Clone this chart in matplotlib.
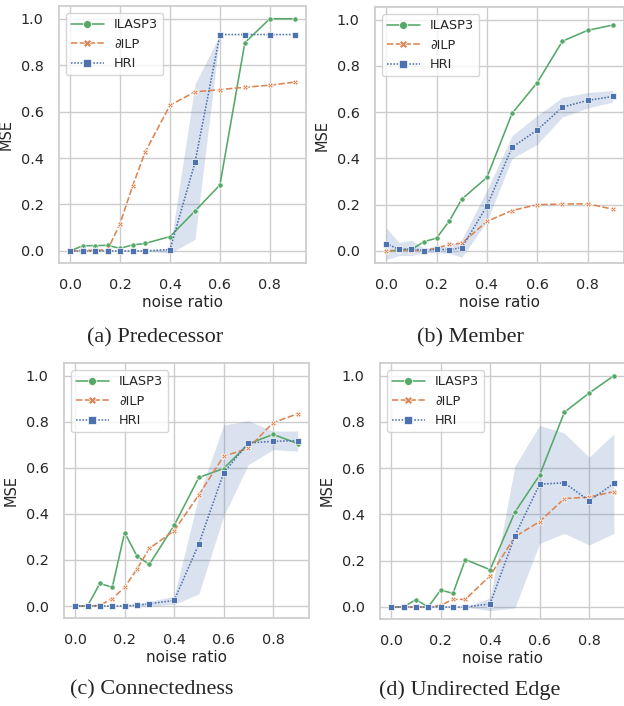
import numpy as np
import matplotlib
matplotlib.use("Agg")
import matplotlib.pyplot as plt
import seaborn as sns

sns.set_theme(style="whitegrid")
plt.rcParams['font.family'] = ['DejaVu Sans']

noise = [0.0, 0.05, 0.1, 0.15, 0.2, 0.25, 0.3, 0.4, 0.5, 0.6, 0.7, 0.8, 0.9]
methods = ["ILASP3", "\u2202ILP", "HRI"]

# (a) Predecessor
pred_ilasp = [0.0, 0.022, 0.023, 0.024, 0.011, 0.026, 0.032, 0.062, 0.172, 0.284, 0.897, 1.0, 1.0]
pred_dilp = [0.0, 0.002, 0.003, 0.005, 0.118, 0.28, 0.425, 0.628, 0.685, 0.695, 0.705, 0.714, 0.727]
pred_hri = [0.0, 0.0, 0.0, 0.0, 0.0, 0.0, 0.0, 0.006, 0.381, 0.932, 0.932, 0.932, 0.932]
pred_lo = [0.0, 0.0, 0.0, 0.0, 0.0, 0.0, 0.0, -0.01, 0.05, 0.932, 0.932, 0.932, 0.932]
pred_hi = [0.0, 0.0, 0.0, 0.0, 0.0, 0.0, 0.0, 0.012, 0.718, 0.932, 0.932, 0.932, 0.932]

# (b) Member
mem_ilasp = [0.0, 0.003, 0.007, 0.04, 0.056, 0.129, 0.224, 0.318, 0.595, 0.728, 0.907, 0.954, 0.977]
mem_dilp = [0.0, 0.003, 0.002, 0.003, 0.012, 0.029, 0.033, 0.128, 0.175, 0.2, 0.203, 0.204, 0.181]
mem_hri = [0.032, 0.007, 0.01, 0.002, 0.007, 0.006, 0.014, 0.195, 0.448, 0.523, 0.622, 0.651, 0.668]
mem_lo = [-0.037, -0.02, -0.02, -0.008, -0.008, -0.01, -0.027, 0.127, 0.4, 0.461, 0.579, 0.618, 0.644]
mem_hi = [0.1, 0.037, 0.047, 0.012, 0.02, 0.02, 0.05, 0.263, 0.499, 0.586, 0.664, 0.685, 0.694]

# (c) Connectedness
con_ilasp = [0.0, 0.0, 0.098, 0.081, 0.319, 0.216, 0.181, 0.35, 0.558, 0.597, 0.704, 0.745, 0.705]
con_dilp = [0.0, 0.0, 0.003, 0.032, 0.081, 0.161, 0.25, 0.327, 0.483, 0.65, 0.685, 0.796, 0.835]
con_hri = [0.0, 0.0, 0.0, 0.0, 0.0, 0.004, 0.01, 0.024, 0.27, 0.578, 0.708, 0.715, 0.718]
con_lo = [0.0, 0.0, 0.0, 0.0, 0.0, 0.0, 0.0, 0.007, 0.053, 0.39, 0.614, 0.679, 0.672]
con_hi = [0.0, 0.0, 0.0, 0.0, 0.0, 0.008, 0.02, 0.042, 0.48, 0.786, 0.804, 0.76, 0.76]

# (d) Undirected Edge
und_ilasp = [0.0, 0.0, 0.032, 0.0, 0.073, 0.059, 0.205, 0.161, 0.41, 0.57, 0.842, 0.925, 1.0]
und_dilp = [0.0, 0.0, 0.0, 0.0, 0.007, 0.033, 0.033, 0.135, 0.304, 0.369, 0.469, 0.475, 0.499]
und_hri = [0.0, 0.0, 0.0, 0.0, 0.0, 0.0, 0.0, 0.013, 0.307, 0.531, 0.537, 0.459, 0.534]
und_lo = [0.0, 0.0, 0.0, 0.0, 0.0, 0.0, 0.0, -0.016, -0.004, 0.275, 0.318, 0.268, 0.318]
und_hi = [0.0, 0.0, 0.0, 0.0, 0.0, 0.0, 0.0, 0.039, 0.61, 0.785, 0.752, 0.648, 0.749]

captions = ["(a) Predecessor", "(b) Member", "(c) Connectedness", "(d) Undirected Edge"]

pal = sns.color_palette("deep")
colors = [pal[2], pal[1], pal[0]]
markers = ["o", "X", "s"]
dashes = [(None, None), (4, 1.5), (1, 1)]

W, H = 624, 706
fig = plt.figure(figsize=(W / 100, H / 100), dpi=100)

# axes boxes in pixels: left, right, top, bottom
boxes = [(59, 306, 6, 263), (375, 624, 7, 263), (64, 309, 363, 618), (380, 625, 363, 619)]
cap_pos = [(155, 338), (470, 338), (152, 690), (470, 690)]

panels = [
    (pred_ilasp, pred_dilp, pred_hri, pred_lo, pred_hi),
    (mem_ilasp, mem_dilp, mem_hri, mem_lo, mem_hi),
    (con_ilasp, con_dilp, con_hri, con_lo, con_hi),
    (und_ilasp, und_dilp, und_hri, und_lo, und_hi),
]

for i, (ys_i, ys_d, ys_h, lo, hi) in enumerate(panels):
    l, r, t, b = boxes[i]
    ax = fig.add_axes([l / W, 1 - b / H, (r - l) / W, (b - t) / H])
    ax.fill_between(noise, lo, hi, color=pal[0], alpha=0.2, linewidth=0)
    handles = []
    for ys, c, m, d, name in zip([ys_i, ys_d, ys_h], colors, markers, dashes, methods):
        ln, = ax.plot(noise, ys, color=c, marker=m, markersize=3.8, markeredgecolor="white",
                      markeredgewidth=0.5, linewidth=1.15, label=name)
        if d[0] is not None:
            ln.set_dashes(d)
        handles.append(ln)
    ax.set_xlim(-0.045, 0.945)
    ax.set_ylim(-0.052, 1.055)
    ax.set_xticks([0.0, 0.2, 0.4, 0.6, 0.8])
    ax.set_yticks([0.0, 0.2, 0.4, 0.6, 0.8, 1.0])
    ax.tick_params(labelsize=10.4, pad=5)
    ax.set_xlabel("noise ratio", fontsize=11, labelpad=2)
    ax.set_ylabel("MSE", fontsize=10.5, labelpad=5)
    ax.legend(handles=handles, loc="upper left", fontsize=9.3, markerscale=1.5,
              handlelength=2.5, borderaxespad=0.55, framealpha=0.8)
    cx, cy = cap_pos[i]
    fig.text(cx / W, 1 - cy / H, captions[i], ha="center", va="center",
             fontsize=16, family=["Liberation Serif", "DejaVu Serif"])

fig.savefig("out.png", dpi=100)
